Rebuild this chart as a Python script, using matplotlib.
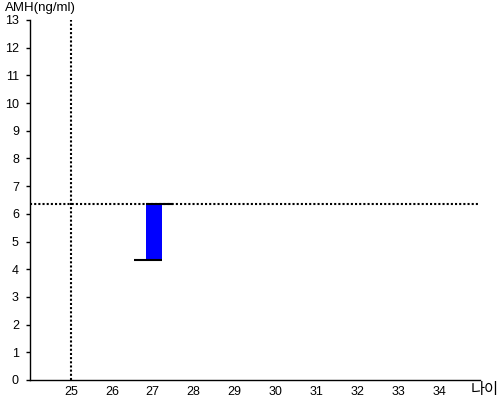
import matplotlib
matplotlib.use("Agg")
import matplotlib.pyplot as plt

plt.rcParams['font.family'] = ['Liberation Sans', 'Noto Sans CJK KR', 'DejaVu Sans']

# data
age = [27]
amh_low = [4.33]
amh_high = [6.35]
ref_age = 25
ref_amh = 6.35
x_ticks = list(range(25, 35))
y_ticks = list(range(0, 14))

fig = plt.figure(figsize=(5, 4), dpi=100)
ax = fig.add_axes([0.06, 0.05, 0.90, 0.90])
ax.set_xlim(24, 35)
ax.set_ylim(0, 13)

for spine in ("top", "right"):
    ax.spines[spine].set_visible(False)
for spine in ("left", "bottom"):
    ax.spines[spine].set_linewidth(1.0)

ax.set_xticks(x_ticks)
ax.set_yticks(y_ticks)
ax.tick_params(axis="x", length=0, labelsize=9, pad=4)
ax.tick_params(axis="y", length=3, width=1, labelsize=9, pad=5)

# reference lines
ax.axvline(ref_age, color="black", linestyle=(0, (1, 1)), linewidth=1.5)
ax.axhline(ref_amh, color="black", linestyle=(0, (1, 1)), linewidth=1.5)

# range bar
w = 0.4
for a, lo, hi in zip(age, amh_low, amh_high):
    ax.bar(a + 0.03, hi - lo, bottom=lo, width=w, color="#0000ff", zorder=3)
    ax.plot([a + 0.03 - w / 2, a + 0.03 + w / 2 + 0.27], [hi, hi],
            color="black", lw=1.5, zorder=4, solid_capstyle="butt")
    ax.plot([a + 0.03 - w / 2 - 0.3, a + 0.03 + w / 2], [lo, lo],
            color="black", lw=1.5, zorder=4, solid_capstyle="butt")

fig.text(0.01, 0.995, "AMH(ng/ml)", fontsize=9.5, ha="left", va="top")
fig.text(0.998, 0.005, "나이", fontsize=11, ha="right", va="bottom",
         family=["Noto Sans CJK KR", "DejaVu Sans"])

fig.savefig("out.png", dpi=100)
